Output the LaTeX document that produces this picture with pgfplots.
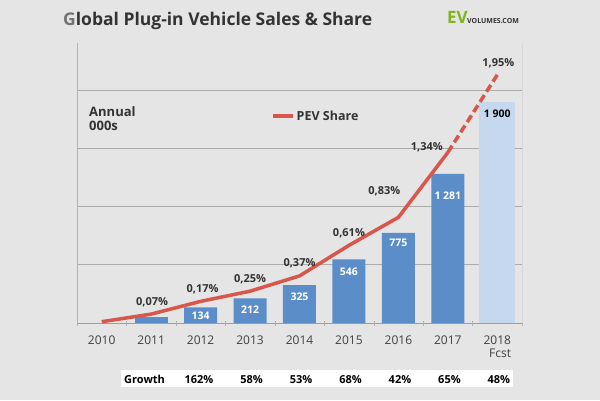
\documentclass[border=0pt]{standalone}
\usepackage{fontspec}
\setmainfont{Open Sans}
\usepackage{pgfplots}
\pgfplotsset{compat=1.18}
\definecolor{bg}{HTML}{E5E5E5}
\definecolor{barblue}{HTML}{5B8DC9}
\definecolor{barlight}{HTML}{C6D8EE}
\definecolor{sharered}{HTML}{D9564A}
\definecolor{gridc}{HTML}{ABABAB}
\definecolor{evgreen}{HTML}{7DB51B}
\definecolor{txt}{HTML}{333333}
\newcommand\ts{\kern0.25em}
\begin{document}
\begin{tikzpicture}
\fill[bg] (0pt,0pt) rectangle (600pt,-400pt);
% title
\node[anchor=base west, inner sep=0, font=\fontsize{17.5}{20}\selectfont\bfseries, text=txt] at (63pt,-25pt) {\textcolor{black!55}{G}lobal Plug-in Vehicle Sales \& Share};
% logo
\node[anchor=base west, inner sep=0, font=\fontsize{17}{17}\selectfont\bfseries, text=evgreen] at (447pt,-23pt) {EV};
\node[anchor=base west, inner sep=0, font=\fontsize{7}{7}\selectfont\bfseries, text=txt] at (467pt,-23pt) {VOLUMES.COM};
% unit label
\node[anchor=north west, inner sep=0, align=left, font=\fontsize{13}{14.5}\selectfont\bfseries, text=txt] at (89pt,-106pt) {Annual\\000s};

\begin{axis}[
  at={(77pt,-323pt)}, anchor=south west,
  width=445pt, height=280pt, scale only axis,
  xmin=-0.5, xmax=8.5, ymin=0, ymax=2407,
  axis x line*=bottom, axis y line*=left,
  x axis line style={draw=gray!75, -},
  y axis line style={draw=gray!60, -},
  xtick={0,1,2,3,4,5,6,7,8},
  xticklabels={2010,2011,2012,2013,2014,2015,2016,2017,{2018\\Fcst}},
  x tick label style={font=\fontsize{12}{13}\selectfont, text=black!75, align=right, inner sep=0pt},
  xticklabel shift=13pt,
  major tick length=0pt,
  extra x ticks={-0.5,0.5,1.5,2.5,3.5,4.5,5.5,6.5,7.5,8.5},
  extra x tick labels={},
  extra x tick style={major tick length=5pt, tick align=center, tick style={gray!60}, grid=none},
  ytick={500,1000,1500,2000}, yticklabels={},
  ymajorgrids, grid style={gridc, line width=1.2pt},
  clip=false,
]
\addplot[ybar, bar shift=0pt, bar width=33pt, fill=barblue, draw=none] coordinates {(1,51)};
\addplot[ybar, bar shift=0pt, bar width=33pt, fill=barblue, draw=none,
  nodes near coords, point meta=explicit symbolic,
  visualization depends on={\thisrow{off}\as\off},
  every node near coord/.append style={anchor=center, yshift=-\off pt, text=white, font=\fontsize{10.5}{12}\selectfont\bfseries}]
  table[x=x, y=v, meta=lab] {
x v lab off
2 134 134 8
3 212 212 11
4 325 325 12
5 546 546 12
6 775 775 10
7 1281 1\ts281 22
};
\addplot[ybar, bar shift=0pt, bar width=36pt, fill=barlight, draw=none,
  nodes near coords, point meta=explicit symbolic,
  every node near coord/.append style={anchor=center, yshift=-12pt, text=black, font=\fontsize{10.5}{12}\selectfont\bfseries}]
  table[x=x, y=v, meta=lab] {
x v lab
8 1900 1\ts900
};
\end{axis}

\begin{axis}[
  at={(77pt,-323pt)}, anchor=south west,
  width=445pt, height=280pt, scale only axis,
  xmin=-0.5, xmax=8.5, ymin=0, ymax=2.2,
  axis x line=none, axis y line*=right,
  y axis line style={draw=gray!30, -},
  ytick=\empty,
  clip=false,
  legend style={at={(0.436,0.739)}, anchor=west, draw=none, fill=none, inner sep=0pt,
    font=\fontsize{12.5}{14}\selectfont\bfseries, text=txt},
  legend image code/.code={\draw[#1] (0pt,0pt) -- (20pt,0pt);},
]
\addplot[sharered, line width=3.5pt, line join=round, mark=none] coordinates {
(0,0.01) (1,0.07) (2,0.17) (3,0.25) (4,0.37) (5,0.61) (6,0.83) (7,1.34)};
\addlegendentry{PEV Share}
\addplot[sharered, line width=3.5pt, dash pattern=on 8pt off 4pt, mark=none, forget plot] coordinates {
(7,1.34) (8,1.95)};
\addplot[draw=none, mark=none, forget plot,
  nodes near coords={\pgfplotspointmeta\%}, point meta=explicit symbolic,
  visualization depends on={\thisrow{dx}\as\dx},
  visualization depends on={\thisrow{dy}\as\dy},
  every node near coord/.append style={anchor=center, xshift=\dx pt, yshift=\dy pt, text=txt, font=\fontsize{11}{12}\selectfont\bfseries}]
  table[x=x, y=s, meta=lab] {
x s lab dx dy
1 0.07 0,07 1 12
2 0.17 0,17 2 12
3 0.25 0,25 0 12
4 0.37 0,37 0 13
5 0.61 0,61 0 12
6 0.83 0,83 -14 26
7 1.34 1,34 -21 5
8 1.95 1,95 1 12
};
\end{axis}

% growth row
\fill[white] (121pt,-370pt) rectangle (513pt,-387pt);
\begin{scope}[every node/.style={inner sep=0, font=\fontsize{11}{12}\selectfont\bfseries, text=black}]
\node[anchor=base west] at (124pt,-383pt) {Growth};
\node[anchor=base east] at (213.6pt,-383pt) {162\%};
\node[anchor=base east] at (263.1pt,-383pt) {58\%};
\node[anchor=base east] at (312.5pt,-383pt) {53\%};
\node[anchor=base east] at (362pt,-383pt) {68\%};
\node[anchor=base east] at (411.4pt,-383pt) {42\%};
\node[anchor=base east] at (460.9pt,-383pt) {65\%};
\node[anchor=base east] at (510.3pt,-383pt) {48\%};
\end{scope}
\end{tikzpicture}
\end{document}
